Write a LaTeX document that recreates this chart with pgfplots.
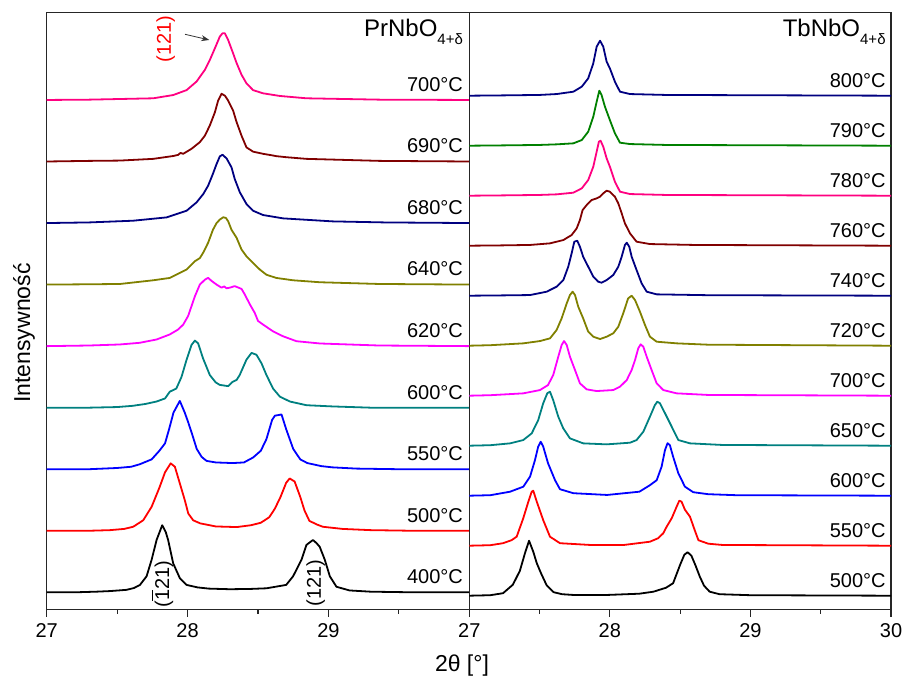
\documentclass[border=0pt]{standalone}
\usepackage{fontspec}
\setmainfont{Liberation Sans}
\usepackage{pgfplots}
\pgfplotsset{compat=1.18}
\usetikzlibrary{arrows.meta}
\definecolor{cteal}{RGB}{0,128,128}
\definecolor{colive}{RGB}{128,128,0}
\definecolor{cnavy}{RGB}{0,0,128}
\definecolor{cwine}{RGB}{128,0,0}
\definecolor{cpink}{RGB}{255,0,128}
\definecolor{cgreen}{RGB}{0,128,0}
\definecolor{cmag}{RGB}{255,0,255}
\definecolor{cred}{RGB}{255,0,0}
\definecolor{cblue}{RGB}{0,0,255}
\begin{document}
\begin{tikzpicture}
\useasboundingbox (0,0) rectangle (452pt,337.5pt);
\pgfplotsset{myax/.style={scale only axis, anchor=south west, height=298.4pt,
  xmin=27, xmax=30, ytick=\empty, ytick style={draw=none},
  axis line style={line width=0.7pt, black!85},
  tick align=outside, tick pos=left, minor x tick num=1,
  major tick length=3.5pt, minor tick length=2pt,
  tick style={line width=0.6pt, black!85},
  clip mode=individual,
  /pgf/number format/assume math mode=true,
  ticklabel style={font=\fontsize{10}{12}\selectfont},
  every axis plot/.append style={line width=0.9pt, line join=round, no markers}}}
\tikzset{tlab/.style={anchor=base east, inner sep=0pt, font=\fontsize{10}{12}\selectfont, xshift=-3pt, yshift=4.3pt}}
% ---------------- left panel ----------------
\begin{axis}[myax, at={(23.35pt,32.75pt)}, width=211.3pt, ymin=-0.2795, ymax=9.418,
  xtick={27,28,29,30}, xticklabels={27,28,29,{}}]
\addplot[black] coordinates {(27.00,0.00) (27.20,0.00) (27.35,0.01) (27.45,0.02) (27.567,0.04) (27.62,0.07) (27.662,0.12) (27.709,0.26) (27.745,0.53) (27.78,0.85) (27.82,1.09) (27.845,0.98) (27.862,0.85) (27.898,0.47) (27.945,0.23) (27.993,0.12) (28.07,0.08) (28.15,0.06) (28.30,0.05) (28.45,0.055) (28.56,0.065) (28.70,0.12) (28.749,0.26) (28.809,0.53) (28.844,0.77) (28.89,0.85) (28.915,0.80) (28.938,0.74) (28.974,0.53) (29.01,0.26) (29.057,0.09) (29.15,0.03) (29.30,0.01) (29.60,0.00) (30.00,0.00)};
\addplot[cred] coordinates {(27.00,1.00) (27.30,1.00) (27.45,1.01) (27.55,1.03) (27.614,1.065) (27.685,1.17) (27.745,1.39) (27.80,1.70) (27.84,1.95) (27.88,2.095) (27.91,2.04) (27.945,1.77) (27.98,1.50) (28.005,1.28) (28.04,1.17) (28.09,1.12) (28.20,1.07) (28.35,1.06) (28.45,1.09) (28.52,1.13) (28.58,1.22) (28.62,1.36) (28.66,1.55) (28.70,1.78) (28.725,1.85) (28.76,1.80) (28.80,1.55) (28.83,1.33) (28.865,1.16) (28.92,1.10) (28.96,1.065) (29.10,1.03) (29.30,1.01) (29.60,1.00) (30.00,1.00)};
\addplot[cblue] coordinates {(27.00,2.00) (27.30,2.00) (27.50,2.02) (27.60,2.04) (27.66,2.08) (27.745,2.16) (27.80,2.30) (27.84,2.42) (27.87,2.66) (27.90,2.92) (27.945,3.11) (27.98,2.92) (28.005,2.76) (28.035,2.55) (28.065,2.33) (28.10,2.20) (28.135,2.135) (28.20,2.11) (28.32,2.10) (28.40,2.11) (28.465,2.19) (28.52,2.30) (28.56,2.49) (28.60,2.80) (28.62,2.87) (28.645,2.88) (28.667,2.89) (28.70,2.65) (28.75,2.33) (28.80,2.16) (28.85,2.10) (28.89,2.08) (28.95,2.05) (29.03,2.03) (29.20,2.01) (29.50,2.00) (30.00,2.00)};
\addplot[cteal] coordinates {(27.00,3.00) (27.30,3.00) (27.50,3.01) (27.61,3.03) (27.70,3.06) (27.78,3.10) (27.84,3.15) (27.874,3.26) (27.92,3.31) (27.957,3.50) (27.993,3.78) (28.028,4.02) (28.052,4.09) (28.075,4.045) (28.11,3.80) (28.158,3.53) (28.20,3.41) (28.229,3.37) (28.288,3.35) (28.32,3.42) (28.348,3.45) (28.37,3.53) (28.418,3.78) (28.454,3.89) (28.489,3.86) (28.525,3.72) (28.56,3.53) (28.607,3.31) (28.655,3.18) (28.726,3.10) (28.844,3.04) (29.03,3.02) (29.30,3.00) (30.00,3.00)};
\addplot[cmag] coordinates {(27.00,4.00) (27.30,4.01) (27.52,4.027) (27.66,4.054) (27.78,4.108) (27.874,4.19) (27.933,4.27) (27.969,4.35) (28.004,4.49) (28.028,4.65) (28.052,4.81) (28.087,5.00) (28.123,5.08) (28.146,5.11) (28.17,5.06) (28.206,5.00) (28.241,4.95) (28.26,4.97) (28.277,4.94) (28.30,4.95) (28.335,4.975) (28.383,4.93) (28.406,4.84) (28.442,4.68) (28.477,4.54) (28.50,4.41) (28.536,4.35) (28.607,4.24) (28.678,4.16) (28.773,4.08) (28.94,4.043) (29.36,4.01) (30.00,4.00)};
\addplot[colive] coordinates {(27.00,5.00) (27.30,5.005) (27.52,5.01) (27.756,5.07) (27.874,5.108) (27.945,5.19) (27.993,5.244) (28.028,5.325) (28.052,5.38) (28.087,5.43) (28.11,5.515) (28.146,5.68) (28.18,5.89) (28.206,6.00) (28.229,6.056) (28.253,6.094) (28.272,6.083) (28.288,6.03) (28.312,5.89) (28.348,5.76) (28.383,5.57) (28.418,5.46) (28.465,5.35) (28.513,5.244) (28.56,5.16) (28.63,5.108) (28.749,5.07) (28.94,5.038) (29.36,5.01) (30.00,5.00)};
\addplot[cnavy] coordinates {(27.00,6.00) (27.30,6.01) (27.614,6.038) (27.851,6.092) (27.993,6.20) (28.064,6.336) (28.111,6.47) (28.146,6.607) (28.18,6.80) (28.206,6.96) (28.229,7.083) (28.248,7.11) (28.277,7.05) (28.312,6.905) (28.335,6.715) (28.371,6.50) (28.418,6.31) (28.465,6.20) (28.536,6.13) (28.678,6.076) (29.03,6.027) (29.40,6.01) (30.00,6.00)};
\addplot[cwine] coordinates {(27.00,7.00) (27.30,7.01) (27.52,7.015) (27.756,7.043) (27.90,7.09) (27.933,7.108) (27.95,7.14) (27.969,7.125) (28.028,7.206) (28.087,7.314) (28.123,7.42) (28.158,7.585) (28.194,7.80) (28.217,7.99) (28.241,8.10) (28.265,8.07) (28.288,7.99) (28.323,7.83) (28.348,7.64) (28.383,7.42) (28.418,7.23) (28.465,7.16) (28.536,7.125) (28.60,7.10) (28.63,7.087) (28.70,7.07) (28.844,7.043) (29.364,7.01) (30.00,7.00)};
\addplot[cpink] coordinates {(27.00,8.00) (27.30,8.005) (27.756,8.027) (27.898,8.08) (27.993,8.16) (28.064,8.30) (28.123,8.49) (28.158,8.65) (28.194,8.84) (28.229,9.03) (28.248,9.083) (28.265,9.083) (28.288,8.975) (28.323,8.76) (28.348,8.60) (28.383,8.41) (28.418,8.27) (28.465,8.16) (28.536,8.108) (28.655,8.065) (28.844,8.027) (29.364,8.005) (30.00,8.00)};
\node[tlab] at (axis cs:30,0) {400°C};
\node[tlab] at (axis cs:30,1) {500°C};
\node[tlab] at (axis cs:30,2) {550°C};
\node[tlab] at (axis cs:30,3) {600°C};
\node[tlab] at (axis cs:30,4) {620°C};
\node[tlab] at (axis cs:30,5) {640°C};
\node[tlab] at (axis cs:30,6) {680°C};
\node[tlab] at (axis cs:30,7) {690°C};
\node[tlab] at (axis cs:30,8) {700°C};
\node[anchor=base east, inner sep=0pt, font=\fontsize{12}{14}\selectfont, xshift=-3pt, yshift=-11.9pt] at (rel axis cs:1,1) {PrNbO\raisebox{-4pt}{\fontsize{7.5}{9}\selectfont 4+δ}};
\node[rotate=90, text=cred, inner sep=0pt, font=\fontsize{10}{12}\selectfont] at (axis cs:27.844,8.99) {(121)};
\draw[-{Stealth[length=4pt,width=3pt]}, line width=0.4pt, black!80] (axis cs:27.982,9.067) -- (axis cs:28.154,8.975);
\node[rotate=90, inner sep=0pt, font=\fontsize{10}{12}\selectfont] at (axis cs:27.82,0.135) {($\overline{\hbox{1}}$21)};
\node[rotate=90, inner sep=0pt, font=\fontsize{10}{12}\selectfont] at (axis cs:28.91,0.15) {(121)};
\end{axis}
% ---------------- right panel ----------------
\begin{axis}[myax, at={(234.65pt,32.75pt)}, width=210.85pt, ymin=-0.276, ymax=11.66,
  xtick={27,28,29,30}]
\addplot[black] coordinates {(27.00,0.00) (27.15,0.01) (27.24,0.05) (27.31,0.22) (27.36,0.50) (27.396,0.85) (27.425,1.10) (27.455,0.88) (27.48,0.65) (27.51,0.45) (27.55,0.21) (27.60,0.07) (27.66,0.03) (27.74,0.015) (27.98,0.015) (28.21,0.04) (28.31,0.08) (28.40,0.16) (28.45,0.25) (28.50,0.62) (28.53,0.82) (28.553,0.87) (28.58,0.80) (28.61,0.60) (28.64,0.38) (28.67,0.20) (28.71,0.08) (28.78,0.03) (29.00,0.01) (30.00,0.00)};
\addplot[cred] coordinates {(27.00,1.00) (27.15,1.01) (27.24,1.05) (27.30,1.11) (27.337,1.18) (27.384,1.55) (27.42,1.88) (27.444,2.08) (27.455,2.10) (27.48,1.88) (27.526,1.51) (27.574,1.18) (27.645,1.05) (27.86,1.015) (28.10,1.015) (28.285,1.08) (28.344,1.15) (28.38,1.25) (28.404,1.38) (28.44,1.55) (28.475,1.78) (28.494,1.90) (28.51,1.88) (28.534,1.72) (28.57,1.58) (28.605,1.30) (28.63,1.11) (28.70,1.04) (28.80,1.015) (30.00,1.00)};
\addplot[cblue] coordinates {(27.00,2.00) (27.15,2.01) (27.29,2.08) (27.384,2.18) (27.432,2.38) (27.467,2.71) (27.49,2.98) (27.508,3.08) (27.526,2.98) (27.56,2.65) (27.61,2.31) (27.645,2.13) (27.74,2.05) (27.98,2.015) (28.21,2.08) (28.285,2.21) (28.333,2.31) (28.368,2.58) (28.392,2.91) (28.41,3.05) (28.427,3.01) (28.45,2.78) (28.487,2.45) (28.534,2.18) (28.593,2.07) (28.70,2.03) (28.90,2.01) (30.00,2.00)};
\addplot[cteal] coordinates {(27.00,3.00) (27.15,3.01) (27.29,3.047) (27.384,3.113) (27.444,3.247) (27.49,3.51) (27.526,3.85) (27.555,4.05) (27.574,4.08) (27.597,3.91) (27.633,3.58) (27.668,3.35) (27.716,3.147) (27.81,3.047) (27.977,3.027) (28.143,3.06) (28.19,3.113) (28.238,3.28) (28.285,3.58) (28.32,3.81) (28.337,3.88) (28.356,3.85) (28.392,3.65) (28.44,3.38) (28.487,3.113) (28.57,3.047) (28.80,3.015) (30.00,3.00)};
\addplot[cmag] coordinates {(27.00,4.00) (27.15,4.01) (27.384,4.047) (27.503,4.113) (27.56,4.213) (27.597,4.413) (27.633,4.78) (27.657,5.013) (27.674,5.093) (27.693,5.013) (27.716,4.78) (27.752,4.513) (27.787,4.247) (27.835,4.127) (27.906,4.093) (28.024,4.113) (28.072,4.18) (28.12,4.313) (28.155,4.513) (28.179,4.713) (28.202,4.947) (28.219,5.027) (28.238,4.98) (28.262,4.78) (28.297,4.513) (28.333,4.247) (28.38,4.113) (28.475,4.047) (28.70,4.015) (30.00,4.00)};
\addplot[colive] coordinates {(27.00,5.00) (27.15,5.01) (27.384,5.047) (27.503,5.093) (27.574,5.147) (27.621,5.313) (27.657,5.547) (27.693,5.847) (27.716,6.013) (27.735,6.08) (27.752,6.013) (27.775,5.78) (27.81,5.547) (27.846,5.28) (27.882,5.18) (27.93,5.133) (27.977,5.18) (28.024,5.247) (28.06,5.38) (28.095,5.647) (28.13,5.947) (28.155,6.00) (28.179,5.913) (28.214,5.68) (28.25,5.413) (28.285,5.18) (28.333,5.08) (28.475,5.047) (28.70,5.02) (30.00,5.00)};
\addplot[cnavy] coordinates {(27.00,6.00) (27.20,6.005) (27.432,6.013) (27.55,6.08) (27.621,6.18) (27.669,6.313) (27.704,6.58) (27.728,6.847) (27.747,7.08) (27.768,7.10) (27.787,6.98) (27.81,6.78) (27.846,6.58) (27.882,6.38) (27.917,6.28) (27.941,6.26) (27.977,6.313) (28.024,6.413) (28.06,6.58) (28.084,6.78) (28.107,7.013) (28.12,7.06) (28.138,6.98) (28.155,6.78) (28.19,6.513) (28.226,6.247) (28.262,6.08) (28.333,6.027) (28.70,6.01) (30.00,6.00)};
\addplot[cwine] coordinates {(27.00,7.00) (27.20,7.005) (27.432,7.015) (27.574,7.047) (27.669,7.113) (27.728,7.213) (27.764,7.347) (27.787,7.513) (27.806,7.713) (27.835,7.813) (27.87,7.913) (27.906,7.947) (27.93,7.98) (27.953,8.047) (27.977,8.10) (28.00,8.08) (28.036,7.98) (28.06,7.847) (28.084,7.647) (28.107,7.447) (28.143,7.247) (28.19,7.08) (28.285,7.033) (28.60,7.015) (30.00,7.00)};
\addplot[cpink] coordinates {(27.00,8.00) (27.20,8.005) (27.50,8.015) (27.621,8.027) (27.74,8.06) (27.80,8.147) (27.846,8.313) (27.882,8.58) (27.906,8.88) (27.922,9.08) (27.934,9.10) (27.953,8.98) (27.977,8.747) (28.00,8.58) (28.036,8.28) (28.072,8.08) (28.143,8.033) (28.40,8.015) (30.00,8.00)};
\addplot[cgreen] coordinates {(27.00,9.00) (27.20,9.005) (27.50,9.015) (27.621,9.027) (27.74,9.047) (27.80,9.113) (27.846,9.28) (27.882,9.58) (27.906,9.88) (27.925,10.10) (27.941,10.013) (27.965,9.78) (28.00,9.513) (28.036,9.247) (28.072,9.06) (28.143,9.033) (28.40,9.015) (30.00,9.00)};
\addplot[cnavy] coordinates {(27.00,10.00) (27.20,10.005) (27.50,10.015) (27.621,10.033) (27.74,10.08) (27.80,10.18) (27.846,10.347) (27.882,10.647) (27.906,10.98) (27.93,11.10) (27.953,10.98) (27.977,10.68) (28.00,10.547) (28.036,10.28) (28.072,10.08) (28.143,10.033) (28.40,10.015) (30.00,10.00)};
\node[tlab, xshift=0.5pt] at (axis cs:30,0) {500°C};
\node[tlab, xshift=0.5pt] at (axis cs:30,1) {550°C};
\node[tlab, xshift=0.5pt] at (axis cs:30,2) {600°C};
\node[tlab, xshift=0.5pt] at (axis cs:30,3) {650°C};
\node[tlab, xshift=0.5pt] at (axis cs:30,4) {700°C};
\node[tlab, xshift=0.5pt] at (axis cs:30,5) {720°C};
\node[tlab, xshift=0.5pt] at (axis cs:30,6) {740°C};
\node[tlab, xshift=0.5pt] at (axis cs:30,7) {760°C};
\node[tlab, xshift=0.5pt] at (axis cs:30,8) {780°C};
\node[tlab, xshift=0.5pt] at (axis cs:30,9) {790°C};
\node[tlab, xshift=0.5pt] at (axis cs:30,10) {800°C};
\node[anchor=base east, inner sep=0pt, font=\fontsize{12}{14}\selectfont, xshift=-2.5pt, yshift=-11.9pt] at (rel axis cs:1,1) {TbNbO\raisebox{-4pt}{\fontsize{7.5}{9}\selectfont 4+δ}};
\end{axis}
\node[anchor=base, inner sep=0pt, font=\fontsize{11.5}{13}\selectfont] at (231pt,1.8pt) {2θ [°]};
\node[rotate=90, anchor=base, inner sep=0pt, font=\fontsize{11.5}{13}\selectfont] at (15pt,171pt) {Intensywność};
\end{tikzpicture}
\end{document}
